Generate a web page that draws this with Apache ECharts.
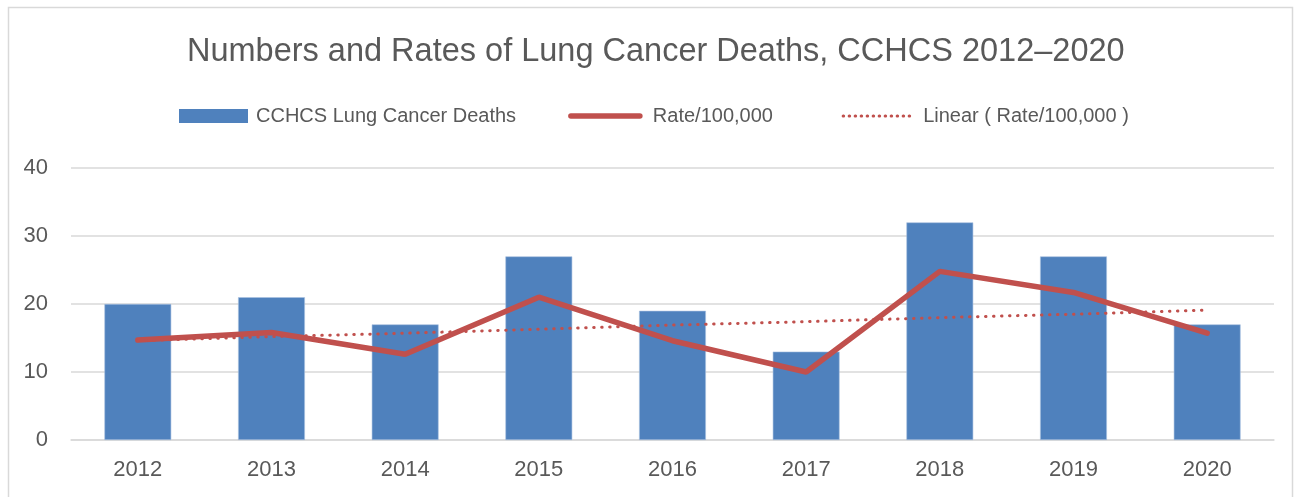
<!DOCTYPE html>
<html>
<head>
<meta charset="utf-8">
<script src="https://cdn.jsdelivr.net/npm/echarts@6/dist/echarts.min.js"></script>
<style>
  html, body { margin: 0; padding: 0; background: #fff; }
  #main { width: 1302px; height: 497px; }
</style>
</head>
<body>
<div id="main"></div>
<script>
// data
const years = ['2012', '2013', '2014', '2015', '2016', '2017', '2018', '2019', '2020'];
const deaths = [20, 21, 17, 27, 19, 13, 32, 27, 17];
const rate = [14.7, 15.8, 12.6, 21.0, 14.6, 10.0, 24.8, 21.7, 15.7];
const rateTrend = [14.6, 15.2, 15.7, 16.3, 16.9, 17.4, 18.0, 18.5, 19.1];

const textColor = '#595959';
const fontFamily = 'Liberation Sans, Arial, sans-serif';

const myChart = echarts.init(document.getElementById('main'));
const option = {
  backgroundColor: '#fff',
  animation: false,
  title: {
    text: 'Numbers and Rates of Lung Cancer Deaths, CCHCS 2012\u20132020',
    left: 187,
    top: 36,
    padding: 0,
    textStyle: { color: textColor, fontSize: 32.5, fontWeight: 'normal', fontFamily: fontFamily }
  },
  legend: {
    top: 106,
    left: 179,
    padding: 0,
    itemWidth: 69,
    itemHeight: 14,
    itemGap: 52,
    // 留出和原图一样的间距
    formatter: name => name === 'Rate/100,000' ? name + '\u00a0\u00a0\u00a0' : name,
    textStyle: { color: textColor, fontSize: 20, fontFamily: fontFamily, padding: [0, 0, 0, 3] },
    data: [
      { name: 'CCHCS Lung Cancer Deaths', icon: 'rect', itemStyle: { borderWidth: 0 } },
      {
        name: 'Rate/100,000',
        itemStyle: { color: 'transparent', borderWidth: 0 },
        lineStyle: { width: 5.5, color: '#c0504d', cap: 'round' },
        textStyle: { padding: [0, 0, 0, 8] }
      },
      {
        name: 'Linear ( Rate/100,000 )',
        itemStyle: { color: 'transparent', borderWidth: 0 },
        lineStyle: { width: 3, color: '#c0504d', type: [0.5, 5.5], cap: 'round' },
        textStyle: { padding: [0, 0, 0, 6] }
      }
    ]
  },
  grid: { left: 71, right: 28, top: 168, bottom: 57 },
  xAxis: {
    type: 'category',
    data: years,
    axisTick: { show: false },
    axisLine: { lineStyle: { color: '#d9d9d9', width: 1.5 } },
    axisLabel: { color: textColor, fontSize: 22, fontFamily: fontFamily, margin: 19 }
  },
  yAxis: {
    type: 'value',
    min: 0,
    max: 40,
    interval: 10,
    axisLine: { show: false },
    axisTick: { show: false },
    splitLine: { lineStyle: { color: '#d9d9d9', width: 1.5 } },
    axisLabel: { color: textColor, fontSize: 22, fontFamily: fontFamily, margin: 23 }
  },
  series: [
    {
      name: 'CCHCS Lung Cancer Deaths',
      type: 'bar',
      data: deaths,
      barWidth: '50%',
      itemStyle: { color: '#4f81bd', borderColor: '#a9c1e0', borderWidth: 0.6 }
    },
    {
      name: 'Rate/100,000',
      type: 'line',
      data: rate,
      symbol: 'none',
      lineStyle: { color: '#c0504d', width: 5.5, cap: 'round' },
      itemStyle: { color: '#c0504d' }
    },
    {
      name: 'Linear ( Rate/100,000 )',
      type: 'line',
      data: rateTrend,
      symbol: 'none',
      lineStyle: { color: '#c0504d', width: 3, type: [0.5, 7.5], cap: 'round' },
      itemStyle: { color: '#c0504d' }
    }
  ],
  graphic: [
    {
      type: 'rect',
      shape: { x: 8.5, y: 7.5, width: 1284, height: 500 },
      style: { fill: 'none', stroke: '#d9d9d9', lineWidth: 1.5 },
      silent: true
    }
  ]
};
myChart.setOption(option);
window.addEventListener('resize', () => {
  if (myChart) {
    myChart.resize();
  }
});
</script>
</body>
</html>
